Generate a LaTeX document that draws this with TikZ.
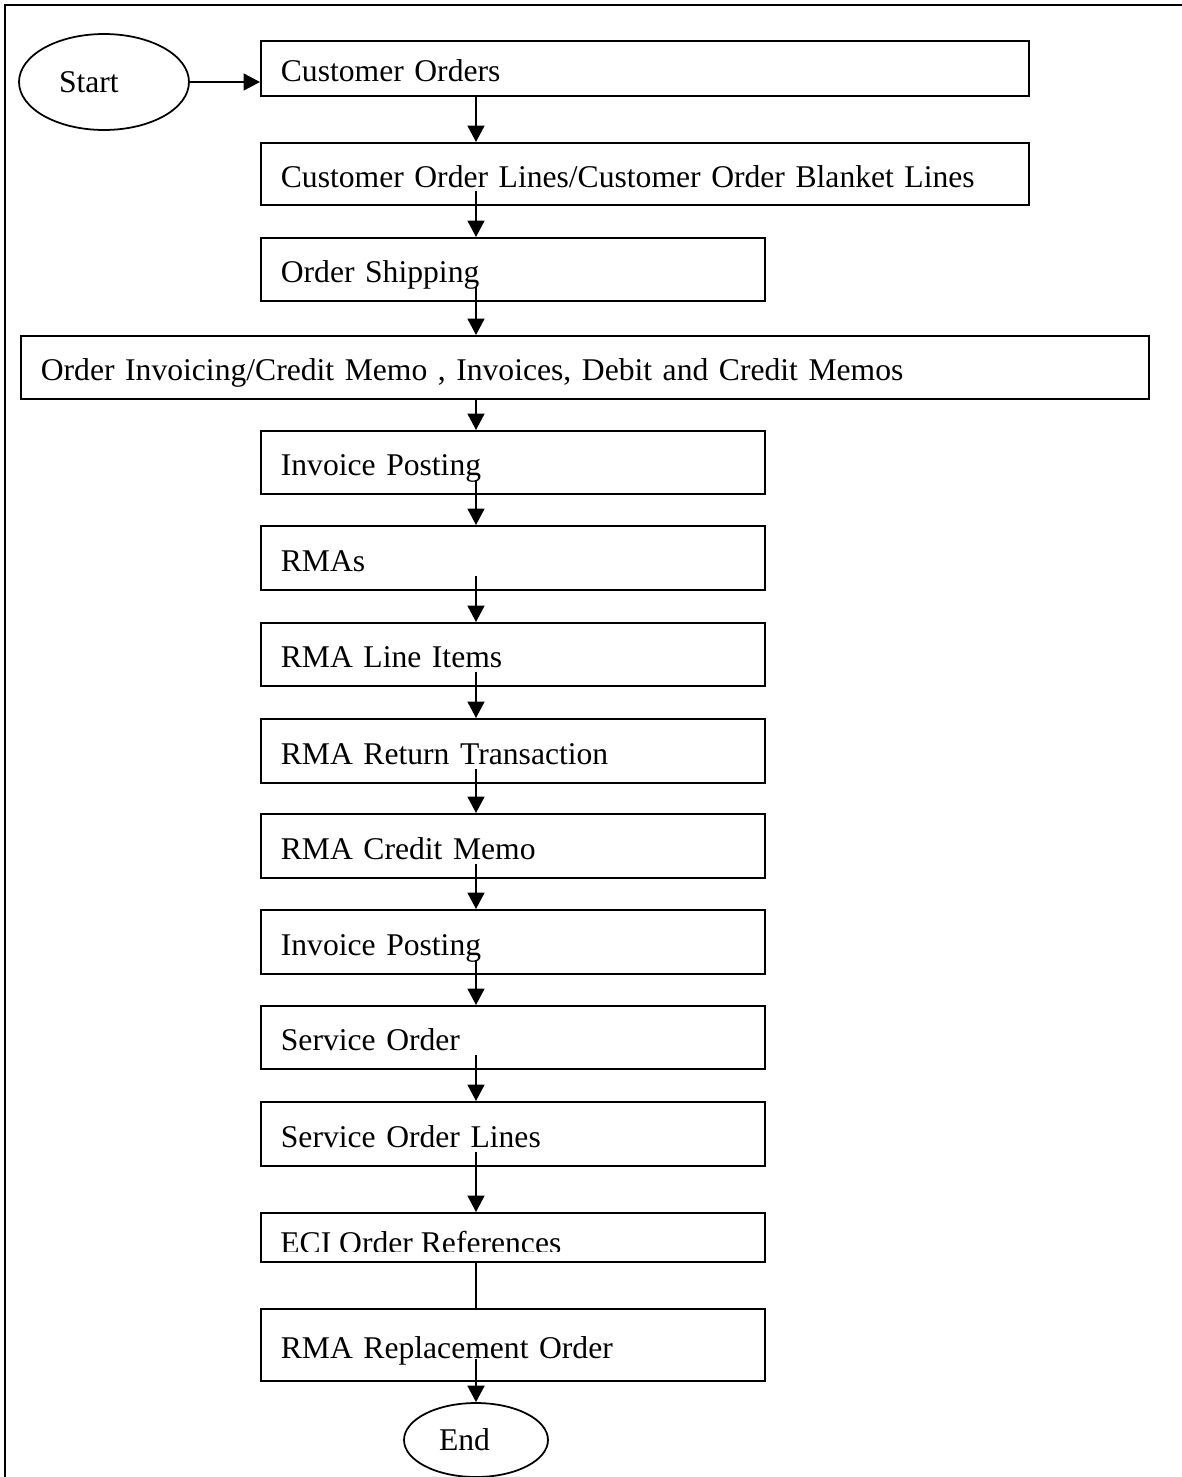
\documentclass[tikz,border=0pt]{standalone}
\usepackage{fontspec}
\setmainfont{Liberation Serif}
\usetikzlibrary{arrows.meta,shapes.geometric}

\tikzset{
    stepbox/.style={draw,line width=1pt,anchor=north west,inner xsep=0.4cm,inner ysep=0pt,
        align=left,text height=1.5em,text depth=0pt,font=\fontsize{18}{22}\selectfont},
    wide/.style={stepbox,text width=14.56cm},
    narrow/.style={stepbox,text width=9.28cm},
    term/.style={draw,ellipse,line width=1pt,inner sep=0pt,font=\fontsize{18}{22}\selectfont},
    flow/.style={line width=1pt,-{Triangle[length=0.33cm,width=0.34cm]}},
    early/.style={shorten <=-0.3cm}
}

\begin{document}
\begin{tikzpicture}[x=0.02cm,y=-0.02cm]
    \useasboundingbox (0,0) rectangle (1182,1477);
    \draw[line width=1pt] (5,1490) -- (5,5) -- (1190,5);

    \coordinate (spine) at (476,0);

    \node[term,minimum width=3.4cm,minimum height=1.92cm] (start) at (104,82) {\makebox[1.8cm][l]{Start}};
    \node[wide,minimum height=1.10cm] (co) at (260,40) {Customer Orders};
    \node[wide,minimum height=1.24cm] (col) at (260,142) {Customer Order Lines/Customer Order Blanket Lines};
    \node[narrow,minimum height=1.26cm] (ship) at (260,237) {Order Shipping};
    \node[stepbox,text width=21.76cm,minimum height=1.26cm] (inv) at (20,335) {Order Invoicing/Credit Memo , Invoices, Debit and Credit Memos};
    \node[narrow,minimum height=1.26cm] (post) at (260,430) {Invoice Posting};
    \node[narrow,minimum height=1.28cm] (rma) at (260,525) {RMAs};
    \node[narrow,minimum height=1.26cm] (rmaline) at (260,622) {RMA Line Items};
    \node[narrow,minimum height=1.28cm] (rmaret) at (260,718) {RMA Return Transaction};
    \node[narrow,minimum height=1.28cm] (rmacm) at (260,813) {RMA Credit Memo};
    \node[narrow,minimum height=1.28cm] (post2) at (260,909) {Invoice Posting};
    \node[narrow,minimum height=1.26cm] (svc) at (260,1005) {Service Order};
    \node[narrow,minimum height=1.28cm] (svcline) at (260,1101) {Service Order Lines};
    \node[narrow,minimum height=0.98cm] (eci) at (260,1212) {};
    \node[narrow,minimum height=1.44cm] (repl) at (260,1308) {RMA Replacement Order};
    \node[term,minimum width=2.88cm,minimum height=1.48cm] (stop) at (476,1440) {\makebox[1.48cm][l]{End}};

    % text of the ECI box is cut off at the bottom
    \begin{scope}
        \clip (eci.north west) rectangle (eci.east |- 0,1251);
        \node[anchor=base west,inner sep=0pt,font=\fontsize{18}{22}\selectfont] (ecitext) at (280,1253) {ECI Order References};
    \end{scope}

    \draw[flow] (start.east) -- (start.east -| co.west);
    \draw[flow] (co.south -| spine) -- (col.north -| spine);
    \draw[flow,early] (col.south -| spine) -- (ship.north -| spine);
    \draw[flow,early] (ship.south -| spine) -- (inv.north -| spine);
    \draw[flow] (inv.south -| spine) -- (post.north -| spine);
    \draw[flow,early] (post.south -| spine) -- (rma.north -| spine);
    \draw[flow,early] (rma.south -| spine) -- (rmaline.north -| spine);
    \draw[flow,early] (rmaline.south -| spine) -- (rmaret.north -| spine);
    \draw[flow,early] (rmaret.south -| spine) -- (rmacm.north -| spine);
    \draw[flow,early] (rmacm.south -| spine) -- (post2.north -| spine);
    \draw[flow,early] (post2.south -| spine) -- (svc.north -| spine);
    \draw[flow,early] (svc.south -| spine) -- (svcline.north -| spine);
    \draw[flow,early] (svcline.south -| spine) -- (eci.north -| spine);
    \draw[line width=1pt] (eci.south -| spine) -- (repl.north -| spine);
    \draw[flow,shorten <=-0.46cm] (repl.south -| spine) -- (stop.north);
\end{tikzpicture}
\end{document}
